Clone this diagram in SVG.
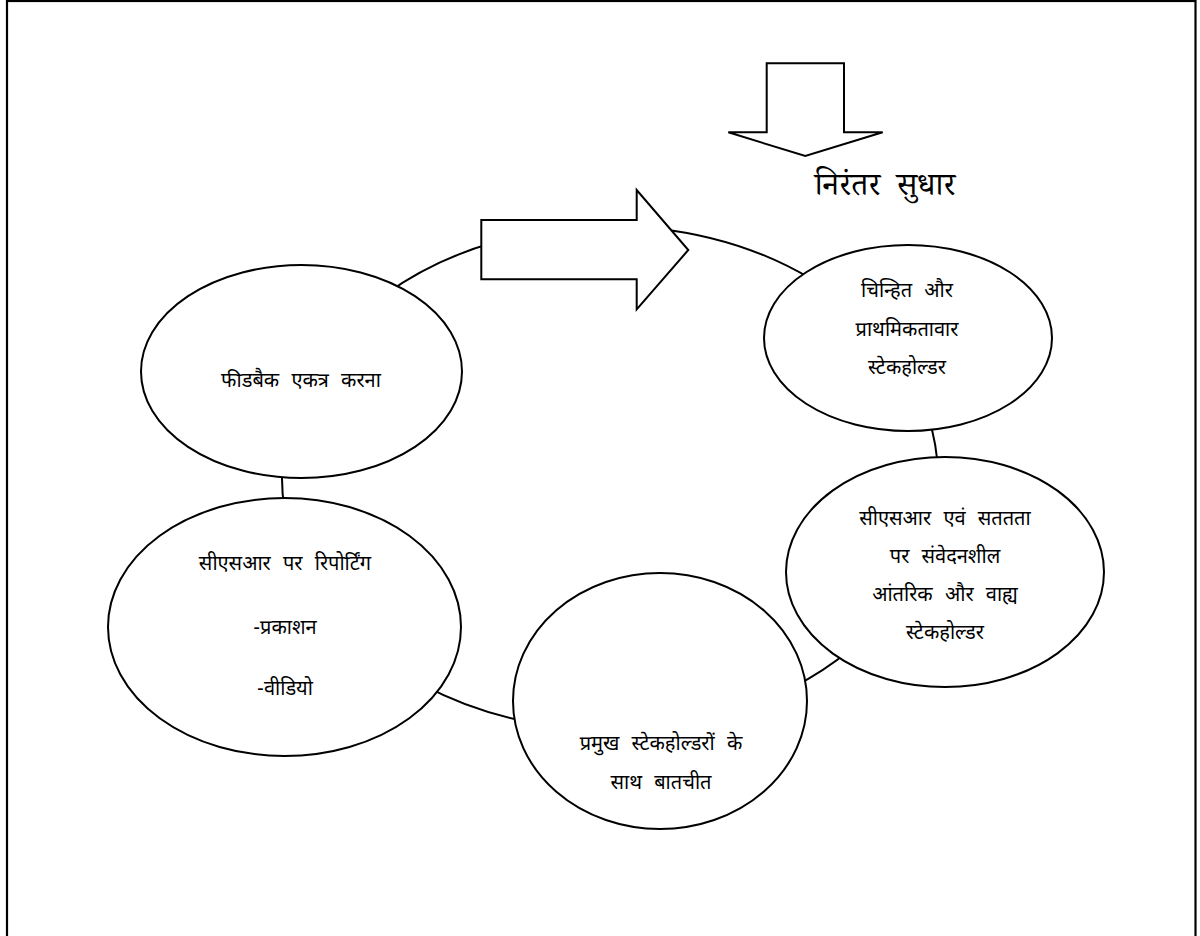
<svg xmlns="http://www.w3.org/2000/svg" width="1200" height="936" viewBox="0 0 1200 936">
<style>
.shape{fill:#fff;stroke:#000;stroke-width:2}
.conn{fill:none;stroke:#000;stroke-width:2}
.lbl{font-family:"Noto Sans Devanagari","Noto Sans","Liberation Sans",sans-serif;font-size:20px;word-spacing:7px;fill:#000;text-anchor:middle}
.title{font-family:"Noto Serif Devanagari","Noto Serif","Liberation Serif",serif;font-size:32px;word-spacing:8px;fill:#000;text-anchor:middle}
</style>
<rect x="0" y="0" width="1200" height="936" fill="#fff"/>
<rect x="7" y="1" width="1188.5" height="1000" fill="none" stroke="#000" stroke-width="2.2"/>
<g id="connectors">
<path class="conn" d="M285.2,513.1 A328,252 0 0 1 283.2,456"/>
<path class="conn" d="M386.3,293.7 A328,252 0 0 1 497.8,241.2"/>
<path class="conn" d="M655.6,228.4 A328,252 0 0 1 811.9,279.4"/>
<path class="conn" d="M928.3,417 A328,252 0 0 1 937.95,473.6"/>
<path class="conn" d="M849.9,649.9 A328,252 0 0 1 793.4,686.9"/>
<path class="conn" d="M530.6,722.5 A328,252 0 0 1 421.9,684.4"/>
</g>
<g id="arrow-down">
<polygon class="shape" points="766.7,63.3 844,63.3 844,132.3 882.7,132.3 805.3,156 728.3,132.3 766.7,132.3"/>
</g>
<g id="title">
<text class="title" x="885" y="195">निरंतर सुधार</text>
</g>
<g id="arrow-right">
<polygon class="shape" points="481.3,220 636.7,220 636.7,190 688.3,250 636.7,309.3 636.7,279.3 481.3,279.3"/>
</g>
<g id="node-identify">
<ellipse class="shape" cx="908" cy="338" rx="144" ry="93"/>
<text class="lbl" x="907" y="297">चिन्हित और</text>
<text class="lbl" x="907" y="336">प्राथमिकतावार</text>
<text class="lbl" x="907" y="374">स्टेकहोल्डर</text>
</g>
<g id="node-sensitive">
<ellipse class="shape" cx="945" cy="572" rx="159" ry="115"/>
<text class="lbl" x="945" y="525">सीएसआर एवं सततता</text>
<text class="lbl" x="945" y="563">पर संवेदनशील</text>
<text class="lbl" x="945" y="601">आंतरिक और वाह्य</text>
<text class="lbl" x="945" y="639">स्टेकहोल्डर</text>
</g>
<g id="node-engage">
<ellipse class="shape" cx="660" cy="701" rx="147" ry="128"/>
<text class="lbl" x="661" y="750">प्रमुख स्टेकहोल्डरों के</text>
<text class="lbl" x="661" y="789">साथ बातचीत</text>
</g>
<g id="node-report">
<ellipse class="shape" cx="284.5" cy="627" rx="176.5" ry="129"/>
<text class="lbl" x="285" y="570">सीएसआर पर रिपोर्टिंग</text>
<text class="lbl" x="285" y="634">-प्रकाशन</text>
<text class="lbl" x="285" y="695">-वीडियो</text>
</g>
<g id="node-feedback">
<ellipse class="shape" cx="301.5" cy="371.5" rx="160.5" ry="106.5"/>
<text class="lbl" x="301" y="387">फीडबैक एकत्र करना</text>
</g>
</svg>
